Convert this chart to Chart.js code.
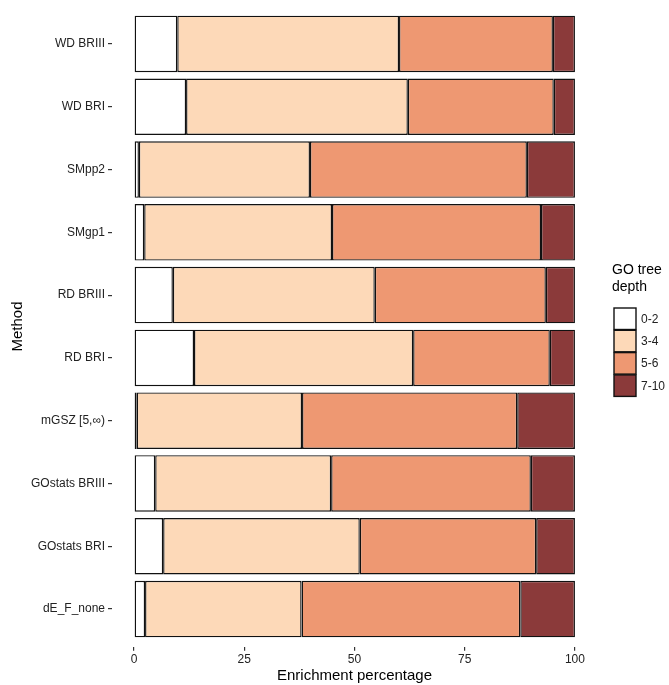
<!DOCTYPE html>
<html>
<head>
<meta charset="utf-8">
<script src="https://cdn.jsdelivr.net/npm/chart.js@4/dist/chart.umd.min.js"></script>
<style>
  html, body { margin: 0; padding: 0; background: #fff; }
  #wrap { width: 669px; height: 685px; }
</style>
</head>
<body>
<div id="wrap"><canvas id="depthChart"></canvas></div>
<script>
// methods, bottom to top
const methods = ['dE_F_none', 'GOstats BRI', 'GOstats BRIII', 'mGSZ [5,\u221E)', 'RD BRI',
                 'RD BRIII', 'SMgp1', 'SMpp2', 'WD BRI', 'WD BRIII'];
const depthLabels = ['0-2', '3-4', '5-6', '7-10'];
// enrichment percentage per depth class (same order as methods)
const depth02  = [2.5, 6.6, 4.8, 0.6, 13.6, 8.8, 2.3, 1.1, 11.8, 9.8];
const depth34  = [35.5, 44.6, 39.9, 37.5, 49.7, 45.8, 42.6, 38.8, 50.3, 50.3];
const depth56  = [49.6, 40.0, 45.3, 48.8, 31.0, 38.8, 47.4, 49.2, 33.1, 34.9];
const depth710 = [12.4, 8.8, 10.0, 13.1, 5.7, 6.6, 7.7, 10.9, 4.8, 5.0];
const xTicks = [0, 25, 50, 75, 100];
const legendTitle = ['GO tree', 'depth'];

const fills = ['#ffffff', '#fdd9b8', '#ee9872', '#8b3a3a'];
const FONT = 'Liberation Sans, Arial, sans-serif';

function toPoints(vals) {
  return vals.map((v, i) => ({ x: v, y: i + 1 }));
}

const series = [depth02, depth34, depth56, depth710];
const datasets = series.map((vals, k) => ({
  label: depthLabels[k],
  data: toPoints(vals),
  backgroundColor: fills[k],
  borderColor: '#111',
  borderWidth: 1.4,
  borderSkipped: false,
  barPercentage: 0.9,
  categoryPercentage: 1
}));

// legend drawn by hand on the right, ggplot style
const sideLegend = {
  id: 'sideLegend',
  afterDraw(chart) {
    const ctx = chart.ctx;
    ctx.save();
    ctx.fillStyle = '#000';
    ctx.font = '14px ' + FONT;
    ctx.textBaseline = 'middle';
    ctx.textAlign = 'left';
    ctx.fillText(legendTitle[0], 612, 270);
    ctx.fillText(legendTitle[1], 612, 287);
    chart.data.datasets.forEach((ds, i) => {
      const y = 308 + i * 22.3;
      ctx.fillStyle = ds.backgroundColor;
      ctx.fillRect(614, y, 22, 21.5);
      ctx.strokeStyle = '#111';
      ctx.lineWidth = 1.4;
      ctx.strokeRect(614, y, 22, 21.5);
      ctx.fillStyle = '#222';
      ctx.font = '12px ' + FONT;
      ctx.fillText(ds.label, 641, y + 11.5);
    });
    ctx.restore();
  }
};

new Chart(document.getElementById('depthChart'), {
  type: 'bar',
  data: { datasets },
  plugins: [sideLegend],
  options: {
    indexAxis: 'y',
    responsive: true,
    maintainAspectRatio: false,
    animation: false,
    layout: { padding: { left: 0, right: 72, top: 6.3, bottom: 0 } },
    plugins: {
      legend: { display: false },
      tooltip: { enabled: false }
    },
    scales: {
      x: {
        type: 'linear',
        stacked: true,
        min: -5,
        max: 105,
        afterBuildTicks: (s) => { s.ticks = xTicks.map(v => ({ value: v })); },
        afterFit: (s) => { s.height = 38.3; },
        grid: { drawOnChartArea: false, drawTicks: true, tickLength: 4, color: '#333', lineWidth: 1.2 },
        border: { display: false },
        ticks: { color: '#222', font: { family: FONT, size: 12 }, padding: 2, maxRotation: 0 },
        title: { display: true, text: 'Enrichment percentage', color: '#000',
                 font: { family: FONT, size: 15 }, padding: { top: 0, bottom: 0 } }
      },
      y: {
        type: 'linear',
        stacked: true,
        offset: false,
        min: 0.4,
        max: 10.6,
        afterBuildTicks: (s) => { s.ticks = methods.map((m, i) => ({ value: i + 1 })); },
        afterFit: (s) => { s.width = 112; s.paddingTop = 0; s.paddingBottom = 0; },
        grid: { offset: false, drawOnChartArea: false, drawTicks: true, tickLength: 4, color: '#333', lineWidth: 1.2 },
        border: { display: false },
        ticks: {
          color: '#222',
          font: { family: FONT, size: 12 },
          padding: 3,
          callback: (v) => methods[Math.round(v) - 1]
        },
        title: { display: true, text: 'Method', color: '#000',
                 font: { family: FONT, size: 15 }, padding: { top: 9, bottom: 0 } }
      }
    }
  }
});
</script>
</body>
</html>
